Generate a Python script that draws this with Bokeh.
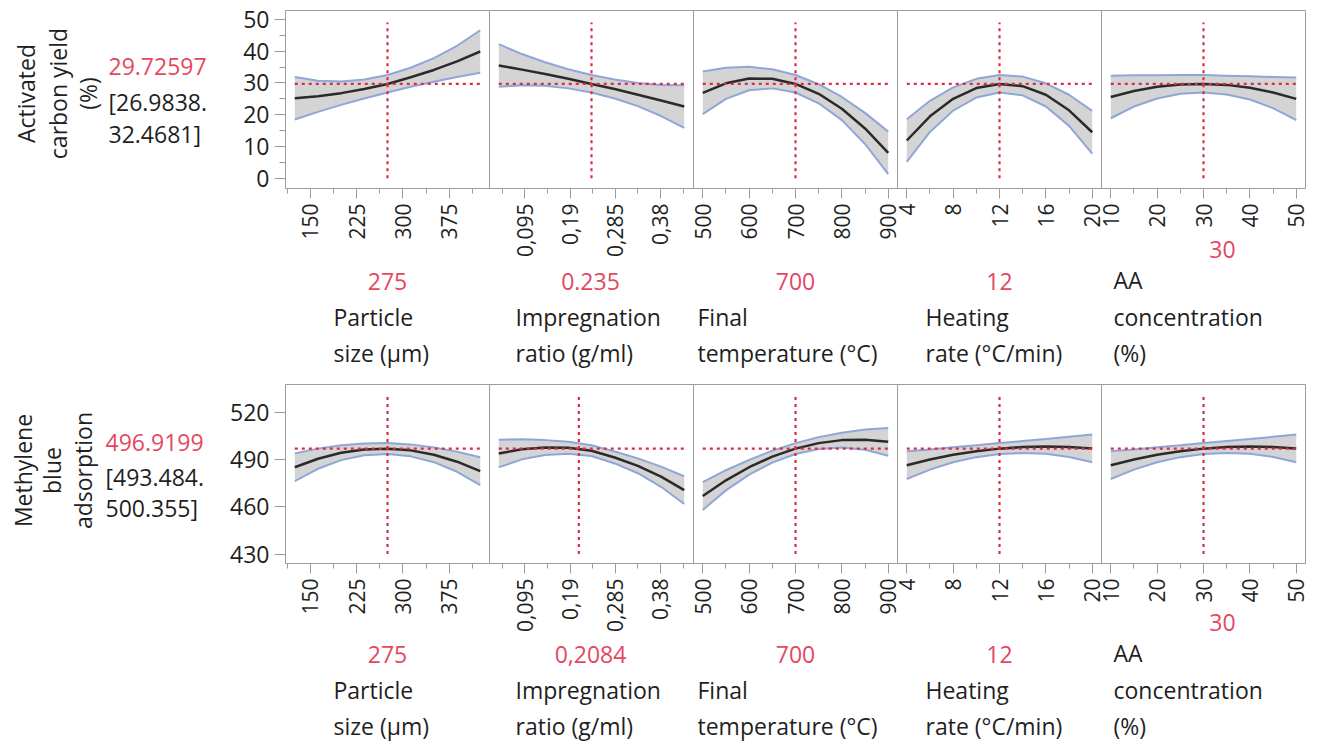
import math
from bokeh.plotting import figure
from bokeh.models import Range1d, FixedTicker, Label
from bokeh.layouts import row, column
from bokeh.embed import file_html
from bokeh.resources import INLINE

FONT = "Open Sans"

# ---------------- factors ----------------
particle_x = [125, 162.5, 200, 237.5, 275, 312.5, 350, 387.5, 425]
impreg_x = [0.04, 0.08875, 0.1375, 0.18625, 0.235, 0.28375, 0.3325, 0.38125, 0.43]
temp_x = [500, 550, 600, 650, 700, 750, 800, 850, 900]
heat_x = [4, 6, 8, 10, 12, 14, 16, 18, 20]
aa_x = [10, 15, 20, 25, 30, 35, 40, 45, 50]
factor_x = [particle_x, impreg_x, temp_x, heat_x, aa_x]

factor_axis_range = [(110, 440), (0.0205, 0.4495), (480, 920), (3.2, 20.8), (8, 52)]

particle_ticks = [150, 225, 300, 375]
particle_tick_labels = ["150", "225", "300", "375"]
particle_minor = [112.5, 187.5, 262.5, 337.5, 412.5]
impreg_ticks = [0.095, 0.19, 0.285, 0.38]
impreg_tick_labels = ["0,095", "0,19", "0,285", "0,38"]
impreg_minor = [0.0475, 0.1425, 0.2375, 0.3325, 0.4275]
temp_ticks = [500, 600, 700, 800, 900]
temp_tick_labels = ["500", "600", "700", "800", "900"]
temp_minor = [550, 650, 750, 850]
heat_ticks = [4, 8, 12, 16, 20]
heat_tick_labels = ["4", "8", "12", "16", "20"]
heat_minor = [6, 10, 14, 18]
aa_ticks = [10, 20, 30, 40, 50]
aa_tick_labels = ["10", "20", "30", "40", "50"]
aa_minor = [15, 25, 35, 45]
x_ticks = [particle_ticks, impreg_ticks, temp_ticks, heat_ticks, aa_ticks]
x_tick_labels = [particle_tick_labels, impreg_tick_labels, temp_tick_labels,
                 heat_tick_labels, aa_tick_labels]
x_minor = [particle_minor, impreg_minor, temp_minor, heat_minor, aa_minor]

factor_names = [["Particle", "size (µm)"], ["Impregnation", "ratio (g/ml)"],
                ["Final", "temperature (°C)"], ["Heating", "rate (°C/min)"],
                ["AA", "concentration", "(%)"]]

# ---------------- response 1: activated carbon yield ----------------
yield_title = ["Activated", "carbon yield", "(%)"]
yield_pred = 29.72597
yield_pred_text = "29.72597"
yield_ci_text = ["[26.9838.", "32.4681]"]
yield_settings = [275, 0.235, 700, 12, 30]
yield_setting_labels = ["275", "0.235", "700", "12", "30"]
yield_ticks = [0, 10, 20, 30, 40, 50]
yield_minor = [5, 15, 25, 35, 45]

yield_mean = [
    [25.2, 25.8, 26.8, 28.1, 29.7, 31.8, 34.1, 36.8, 39.9],
    [35.5, 34.2, 32.8, 31.3, 29.7, 28.1, 26.3, 24.5, 22.6],
    [26.9, 29.9, 31.4, 31.3, 29.7, 26.6, 21.9, 15.7, 8.0],
    [11.9, 19.5, 25.0, 28.4, 29.7, 29.0, 26.3, 21.4, 14.5],
    [25.6, 27.5, 28.8, 29.5, 29.7, 29.4, 28.5, 27.0, 25.0],
]
yield_upper = [
    [31.9, 30.7, 30.5, 31.1, 32.5, 34.8, 37.8, 41.7, 46.6],
    [42.2, 39.1, 36.5, 34.3, 32.5, 31.1, 30.0, 29.4, 29.3],
    [33.6, 34.8, 35.1, 34.3, 32.5, 29.6, 25.6, 20.6, 14.7],
    [18.6, 24.4, 28.6, 31.3, 32.5, 32.0, 29.9, 26.3, 21.2],
    [32.3, 32.4, 32.4, 32.5, 32.5, 32.3, 32.1, 31.9, 31.7],
]
yield_lower = [
    [18.5, 20.9, 23.1, 25.1, 27.0, 28.8, 30.4, 31.9, 33.2],
    [28.8, 29.3, 29.1, 28.3, 27.0, 25.1, 22.7, 19.6, 15.9],
    [20.2, 25.0, 27.7, 28.3, 27.0, 23.6, 18.3, 10.8, 1.3],
    [5.2, 14.6, 21.3, 25.4, 27.0, 26.1, 22.6, 16.5, 7.8],
    [18.9, 22.6, 25.1, 26.6, 27.0, 26.4, 24.8, 22.1, 18.3],
]

# ---------------- response 2: methylene blue adsorption ----------------
mb_title = ["Methylene", "blue", "adsorption"]
mb_pred = 496.9199
mb_pred_text = "496.9199"
mb_ci_text = ["[493.484.", "500.355]"]
mb_settings = [275, 0.2084, 700, 12, 30]
mb_setting_labels = ["275", "0,2084", "700", "12", "30"]
mb_ticks = [430, 460, 490, 520]
mb_minor = []

mb_mean = [
    [485.1, 490.5, 494.3, 496.4, 496.9, 495.8, 493.0, 488.6, 482.6],
    [493.8, 496.5, 497.6, 497.4, 495.6, 491.3, 486.0, 479.1, 470.6],
    [466.8, 476.8, 485.1, 491.8, 496.9, 500.4, 502.3, 502.6, 501.2],
    [486.4, 490.0, 493.0, 495.3, 496.9, 497.9, 498.3, 498.0, 497.0],
    [486.4, 490.0, 493.0, 495.3, 496.9, 497.9, 498.3, 498.0, 497.0],
]
mb_upper = [
    [493.9, 496.9, 499.0, 500.2, 500.4, 499.6, 497.7, 495.0, 491.4],
    [502.6, 502.9, 502.3, 501.2, 499.0, 495.1, 490.7, 485.5, 479.4],
    [475.6, 483.2, 489.8, 495.6, 500.4, 504.2, 507.0, 509.0, 510.0],
    [495.2, 496.4, 497.7, 499.0, 500.4, 501.7, 503.0, 504.4, 505.8],
    [495.2, 496.4, 497.7, 499.0, 500.4, 501.7, 503.0, 504.4, 505.8],
]
mb_lower = [
    [476.3, 484.1, 489.6, 492.7, 493.5, 492.0, 488.3, 482.2, 473.8],
    [485.0, 490.1, 492.9, 493.6, 492.2, 487.5, 481.3, 472.7, 461.8],
    [458.0, 470.4, 480.4, 488.0, 493.5, 496.6, 497.6, 496.2, 492.4],
    [477.6, 483.6, 488.3, 491.5, 493.5, 494.1, 493.6, 491.6, 488.2],
    [477.6, 483.6, 488.3, 491.5, 493.5, 494.1, 493.6, 491.6, 488.2],
]

# ---------------- styling / layout ----------------
GRAY = "#9c9c9c"
BAND = "#d4d4d4"
BLUE = "#8ea6d8"
DARK = "#2a2a2a"
RED_LINE = "#dc2a47"
RED_TEXT = "#e5475f"
TEXT = "#1f1f1f"

LEFT_TEXT_W = 215   # width of the text column on the far left
YAXIS_W = 70        # border holding the y axis of the first panel
FW = 204            # frame width of each panel
RIGHT = 12
PAD = 14            # transparent side padding of panels; neighbours overlap by it

# positions below are page pixels measured from the top of each row
rows_cfg = [
    dict(top=10, fh=178, height=373, yrange=(-3.2, 52.8), vline=(0, 49),
         title=yield_title, title_x=[25, 57, 87], title_y=93,
         pred=yield_pred, pred_text=yield_pred_text, ci_text=yield_ci_text,
         val_x=108, val_y=[66, 101, 133],
         settings=yield_settings, setting_labels=yield_setting_labels,
         yticks=yield_ticks, yminor=yield_minor,
         mean=yield_mean, upper=yield_upper, lower=yield_lower, offset=0),
    dict(top=11, fh=179, height=369, yrange=(424.0, 537.6), vline=(430, 530),
         title=mb_title, title_x=[22, 51, 82], title_y=97,
         pred=mb_pred, pred_text=mb_pred_text, ci_text=mb_ci_text,
         val_x=105, val_y=[69, 103, 134],
         settings=mb_settings, setting_labels=mb_setting_labels,
         yticks=mb_ticks, yminor=mb_minor,
         mean=mb_mean, upper=mb_upper, lower=mb_lower, offset=373),
]

AXIS_BAND = [74, 74, 74, 74, 42]   # space under each frame kept for its x axis
value_center_x = [387, 590, 795, 999, 1222]
name_left_x = [333, 515, 697, 925, 1113]


def text_canvas(x0, y0, w, h):
    t = figure(frame_width=w, frame_height=h, x_range=Range1d(x0, x0 + w),
               y_range=Range1d(y0 + h, y0), x_axis_location=None, y_axis_location=None,
               min_border_left=0, min_border_right=0, min_border_top=0, min_border_bottom=0,
               output_backend="svg", toolbar_location=None)
    t.grid.visible = False
    t.outline_line_color = None
    t.background_fill_alpha = 0
    t.border_fill_alpha = 0
    return t


def add_text(t, x, y, text, size, color, align="left", angle=0.0):
    t.add_layout(Label(x=x, y=y, text=text, text_font=FONT, text_font_size=size,
                       text_color=color, text_align=align, text_baseline="middle",
                       angle=angle))


rows_out = []
for cfg in rows_cfg:
    off = cfg["offset"]
    # far-left text column: response name, predicted value and interval
    lt = text_canvas(0, off, LEFT_TEXT_W, cfg["height"])
    for t_, tx in zip(cfg["title"], cfg["title_x"]):
        add_text(lt, tx, off + cfg["title_y"], t_, "23px", TEXT, align="center",
                 angle=math.pi / 2)
    add_text(lt, cfg["val_x"], off + cfg["val_y"][0], cfg["pred_text"], "23px", RED_TEXT)
    add_text(lt, cfg["val_x"], off + cfg["val_y"][1], cfg["ci_text"][0], "23px", TEXT)
    add_text(lt, cfg["val_x"], off + cfg["val_y"][2], cfg["ci_text"][1], "23px", TEXT)

    cols = [lt]
    for k in range(5):
        first = k == 0
        last = k == 4
        bl = YAXIS_W if first else PAD
        br = RIGHT if last else PAD
        frame_left = LEFT_TEXT_W + YAXIS_W + FW * k
        p = figure(frame_width=FW, frame_height=cfg["fh"],
                   x_range=Range1d(*factor_axis_range[k]), y_range=Range1d(*cfg["yrange"]),
                   output_backend="svg", toolbar_location=None,
                   y_axis_location="left" if first else None,
                   min_border_left=bl, min_border_right=br,
                   min_border_top=cfg["top"], min_border_bottom=AXIS_BAND[k])
        p.xgrid.visible = False
        p.ygrid.visible = False
        p.outline_line_color = GRAY
        p.outline_line_width = 1
        p.background_fill_color = "white"
        p.border_fill_alpha = 0

        xa = p.xaxis[0]
        xa.ticker = FixedTicker(ticks=x_ticks[k], minor_ticks=x_minor[k])
        xa.major_label_overrides = dict(zip(x_ticks[k], x_tick_labels[k]))
        xa.major_label_orientation = math.pi / 2
        xa.major_label_text_font = FONT
        xa.major_label_text_font_size = "21px"
        xa.major_label_text_color = TEXT
        xa.axis_line_color = GRAY
        xa.major_tick_line_color = GRAY
        xa.minor_tick_line_color = GRAY
        xa.major_tick_out = 10
        xa.major_tick_in = 0
        xa.minor_tick_out = 5
        xa.minor_tick_in = 0
        xa.major_label_standoff = 5

        if first:
            ya = p.yaxis[0]
            ya.ticker = FixedTicker(ticks=cfg["yticks"], minor_ticks=cfg["yminor"])
            ya.major_label_text_font = FONT
            ya.major_label_text_font_size = "23px"
            ya.major_label_text_color = TEXT
            ya.axis_line_color = GRAY
            ya.major_tick_line_color = GRAY
            ya.minor_tick_line_color = GRAY
            ya.major_tick_out = 11
            ya.major_tick_in = 0
            ya.minor_tick_out = 6
            ya.minor_tick_in = 0
            ya.major_label_standoff = 5

        xs = factor_x[k]
        p.varea(x=xs, y1=cfg["lower"][k], y2=cfg["upper"][k], fill_color=BAND)
        p.line(xs, cfg["upper"][k], line_color=BLUE, line_width=2)
        p.line(xs, cfg["lower"][k], line_color=BLUE, line_width=2)
        p.line(xs, cfg["mean"][k], line_color=DARK, line_width=2.5)

        s = cfg["settings"][k]
        p.line([xs[0], xs[-1]], [cfg["pred"], cfg["pred"]], line_color=RED_LINE,
               line_width=2.2, line_dash="3 4")
        p.line([s, s], list(cfg["vline"]), line_color=RED_LINE, line_width=2.2,
               line_dash="3 4")

        # text block under the panel: factor setting and factor name.
        # The column aligns this canvas's frame with the panel frame (left border = bl),
        # so its frame starts at the panel's frame_left.
        tw = FW + br
        t_top = off + cfg["top"] + cfg["fh"] + AXIS_BAND[k]
        t_h = off + cfg["height"] - t_top
        tc = text_canvas(frame_left, t_top, tw, t_h)
        names = factor_names[k]
        if len(names) == 3:
            add_text(tc, value_center_x[k], off + 249, cfg["setting_labels"][k], "23px",
                     RED_TEXT, align="center")
            name_y = [279, 316, 352]
        else:
            add_text(tc, value_center_x[k], off + 281, cfg["setting_labels"][k], "23px",
                     RED_TEXT, align="center")
            name_y = [316, 352]
        for nm, ny in zip(names, name_y):
            add_text(tc, name_left_x[k], off + ny, nm, "23px", TEXT)

        col = column(p, tc, spacing=0)
        if not first:
            col.styles = {"margin-left": f"-{2 * PAD}px"}
        cols.append(col)
    rows_out.append(row(*cols, spacing=0))

layout = column(*rows_out, spacing=0)
open("out.html", "w").write(file_html(layout, INLINE))
